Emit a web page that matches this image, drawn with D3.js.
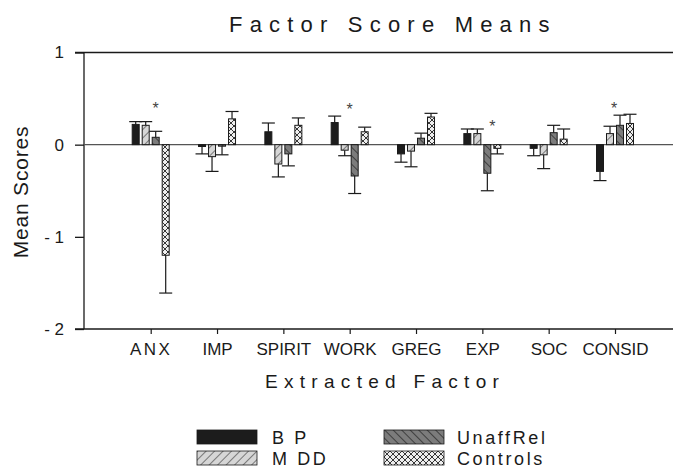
<!DOCTYPE html>
<html>
<head>
<meta charset="utf-8">
<script src="https://cdn.jsdelivr.net/npm/d3@7"></script>
<style>
  body { margin: 0; background: #fff; }
  text { font-family: "Liberation Sans", Arial, sans-serif; fill: #1a1a1a; }
</style>
</head>
<body>
<div id="chart"></div>
<script>
// Factor score means by group
var w = 673, h = 470;

var factors = ["ANX", "IMP", "SPIRIT", "WORK", "GREG", "EXP", "SOC", "CONSID"];
var groups = ["BP", "MDD", "UnaffRel", "Controls"];
var groupLabels = ["B P", "M DD", "UnaffRel", "Controls"];

var bpMean       = [0.22, -0.02, 0.14, 0.24, -0.10, 0.12, -0.04, -0.29];
var bpErr        = [0.03, 0.08, 0.095, 0.07, 0.09, 0.05, 0.08, 0.10];
var mddMean      = [0.21, -0.13, -0.21, -0.06, -0.07, 0.12, -0.11, 0.12];
var mddErr       = [0.04, 0.16, 0.14, 0.06, 0.17, 0.05, 0.15, 0.08];
var unaffMean    = [0.08, -0.01, -0.10, -0.34, 0.07, -0.31, 0.13, 0.21];
var unaffErr     = [0.065, 0.10, 0.13, 0.19, 0.055, 0.19, 0.08, 0.11];
var controlsMean = [-1.20, 0.28, 0.21, 0.14, 0.30, -0.04, 0.06, 0.23];
var controlsErr  = [0.41, 0.08, 0.08, 0.05, 0.04, 0.06, 0.11, 0.10];

var yTicks = [1, 0, -1, -2];

// significance markers: factor and height (in score units)
var starFactors = ["ANX", "WORK", "EXP", "CONSID"];
var starValues  = [0.435, 0.42, 0.24, 0.425];

var means = [bpMean, mddMean, unaffMean, controlsMean];
var errs = [bpErr, mddErr, unaffErr, controlsErr];

var bars = [];
factors.forEach(function(f, i) {
  groups.forEach(function(g, j) {
    bars.push({ factor: f, group: g, value: means[j][i], err: errs[j][i] });
  });
});

var svg = d3.select("#chart").append("svg")
  .attr("width", w).attr("height", h);

// patterns
var defs = svg.append("defs");
var pMdd = defs.append("pattern").attr("id", "p-mdd")
  .attr("patternUnits", "userSpaceOnUse").attr("width", 6).attr("height", 6)
  .attr("patternTransform", "rotate(45)");
pMdd.append("rect").attr("width", 6).attr("height", 6).attr("fill", "#d6d6d6");
pMdd.append("line").attr("x1", 0).attr("y1", 0).attr("x2", 0).attr("y2", 6)
  .attr("stroke", "#2a2a2a").attr("stroke-width", 1.1);

var pUn = defs.append("pattern").attr("id", "p-unaff")
  .attr("patternUnits", "userSpaceOnUse").attr("width", 6).attr("height", 6)
  .attr("patternTransform", "rotate(-45)");
pUn.append("rect").attr("width", 6).attr("height", 6).attr("fill", "#7c7c7c");
pUn.append("line").attr("x1", 0).attr("y1", 0).attr("x2", 0).attr("y2", 6)
  .attr("stroke", "#1e1e1e").attr("stroke-width", 1.3);

var pCo = defs.append("pattern").attr("id", "p-ctrl")
  .attr("patternUnits", "userSpaceOnUse").attr("width", 6).attr("height", 6);
pCo.append("rect").attr("width", 6).attr("height", 6).attr("fill", "#eeeeee");
pCo.append("path").attr("d", "M0,0L6,6M6,0L0,6")
  .attr("stroke", "#222").attr("stroke-width", 0.9).attr("fill", "none");

var fills = { BP: "#1c1c1c", MDD: "url(#p-mdd)", UnaffRel: "url(#p-unaff)", Controls: "url(#p-ctrl)" };

// scales
var x = d3.scalePoint().domain(factors).range([150.7, 615]);
var xg = d3.scaleBand().domain(groups).range([-20, 20]).paddingInner(0.3).paddingOuter(0.15);
var y = d3.scaleLinear().domain([-2, 1]).range([329, 52.5]);

// frame lines
svg.append("line").attr("x1", 75).attr("x2", w).attr("y1", y(1)).attr("y2", y(1))
  .attr("stroke", "#1a1a1a").attr("stroke-width", 1.3);

// y axis
var yAxis = svg.append("g").attr("transform", "translate(84,0)")
  .call(d3.axisLeft(y).tickValues(yTicks).tickSize(9).tickPadding(11)
    .tickFormat(function(d) { return d < 0 ? "- " + Math.abs(d) : d; }));
yAxis.select(".domain").attr("stroke", "#1a1a1a").attr("stroke-width", 1.3)
  .attr("d", "M0," + y(1) + "V" + y(-2));
yAxis.selectAll(".tick line").attr("stroke", "#1a1a1a").attr("stroke-width", 1.3);
yAxis.selectAll("text").attr("font-size", 17).attr("fill", "#1a1a1a")
  .attr("font-family", "Liberation Sans, Arial, sans-serif");

// x axis at bottom
var xAxis = svg.append("g").attr("transform", "translate(0," + y(-2) + ")")
  .call(d3.axisBottom(x).tickSize(5).tickPadding(9));
xAxis.select(".domain").attr("stroke", "#1a1a1a").attr("stroke-width", 1.3)
  .attr("d", "M75,0H" + w);
xAxis.selectAll(".tick line").attr("stroke", "#1a1a1a").attr("stroke-width", 1.2);
xAxis.selectAll("text").attr("font-size", 17).attr("fill", "#1a1a1a")
  .attr("font-family", "Liberation Sans, Arial, sans-serif")
  .attr("letter-spacing", function(d) { return d === "ANX" ? 2.5 : 0; });

// zero line
svg.append("line").attr("x1", 84).attr("x2", w).attr("y1", y(0)).attr("y2", y(0))
  .attr("stroke", "#555").attr("stroke-width", 1.2);

// error bars
var eb = svg.append("g").selectAll("g").data(bars).enter().append("g")
  .attr("transform", function(d) {
    return "translate(" + (x(d.factor) + xg(d.group) + xg.bandwidth() / 2) + ",0)";
  });
eb.append("line").attr("x1", 0).attr("x2", 0)
  .attr("y1", function(d) { return y(d.value); })
  .attr("y2", function(d) { return y(d.value + (d.value >= 0 ? d.err : -d.err)); })
  .attr("stroke", "#1a1a1a").attr("stroke-width", 1.2);
eb.append("line").attr("x1", -6.5).attr("x2", 6.5)
  .attr("y1", function(d) { return y(d.value + (d.value >= 0 ? d.err : -d.err)); })
  .attr("y2", function(d) { return y(d.value + (d.value >= 0 ? d.err : -d.err)); })
  .attr("stroke", "#1a1a1a").attr("stroke-width", 1.2);

// bars
svg.append("g").selectAll("rect").data(bars).enter().append("rect")
  .attr("x", function(d) { return x(d.factor) + xg(d.group); })
  .attr("width", xg.bandwidth())
  .attr("y", function(d) { return y(Math.max(0, d.value)); })
  .attr("height", function(d) { return Math.max(1.5, Math.abs(y(d.value) - y(0))); })
  .attr("fill", function(d) { return fills[d.group]; })
  .attr("stroke", "#1a1a1a").attr("stroke-width", 1);

// stars
var starShift = { ANX: 5, WORK: 0, EXP: 10, CONSID: -1 };
svg.append("g").selectAll("text").data(starFactors).enter().append("text")
  .attr("x", function(d) { return x(d) + starShift[d]; })
  .attr("y", function(d, i) { return y(starValues[i]) + 9; })
  .attr("text-anchor", "middle").attr("font-size", 16).style("fill", "#444")
  .text("*");

// titles
svg.append("text").attr("x", 229).attr("y", 32)
  .attr("font-size", 22).attr("letter-spacing", 7.2)
  .text("Factor Score Means");

svg.append("text").attr("x", 265).attr("y", 388)
  .attr("font-size", 19).attr("letter-spacing", 6.3)
  .text("Extracted Factor");

svg.append("text").attr("transform", "translate(28,192) rotate(-90)")
  .attr("text-anchor", "middle").attr("font-size", 21).attr("letter-spacing", 0.8)
  .text("Mean Scores");

// legend
var legend = svg.append("g").selectAll("g").data(groups).enter().append("g")
  .attr("transform", function(d, i) {
    return "translate(" + (i < 2 ? 197 : 384) + "," + (i % 2 === 0 ? 430 : 451) + ")";
  });
legend.append("rect").attr("width", 60).attr("height", 14)
  .attr("fill", function(d) { return fills[d]; })
  .attr("stroke", "#1a1a1a").attr("stroke-width", 0.8);
legend.append("text").attr("x", function(d, i) { return i < 2 ? 75 : 73; }).attr("y", 14)
  .attr("font-size", 18).attr("letter-spacing", 2.6)
  .text(function(d, i) { return groupLabels[i]; });
</script>
</body>
</html>
